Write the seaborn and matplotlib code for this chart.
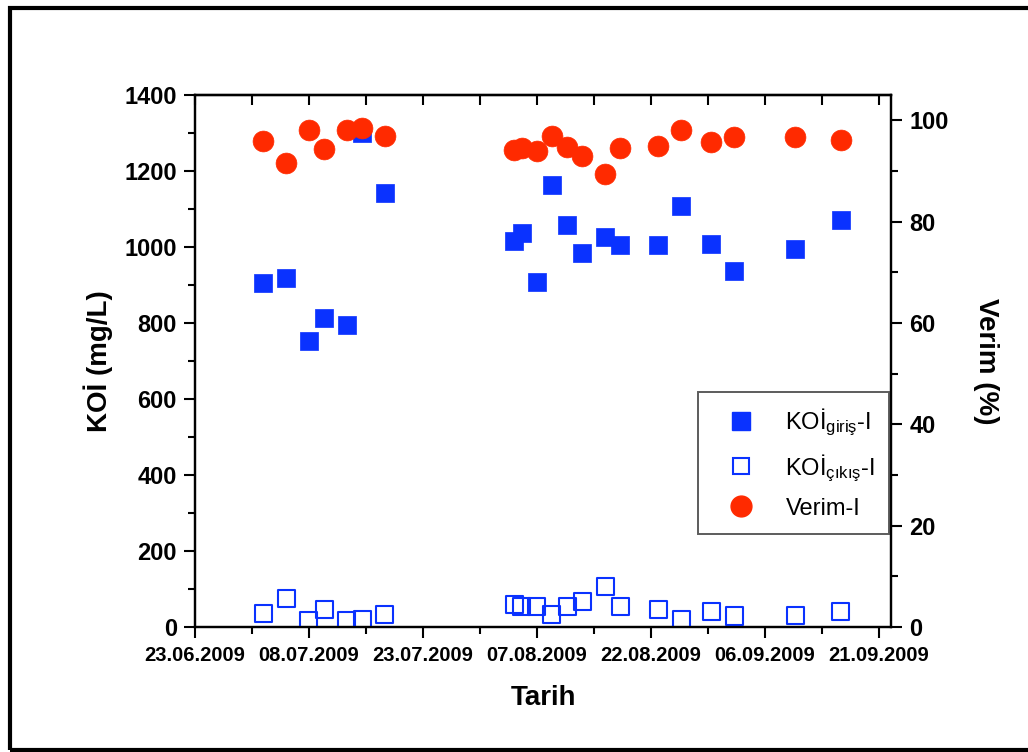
import pandas as pd
import numpy as np
import matplotlib
matplotlib.use("Agg")
import matplotlib.pyplot as plt
import matplotlib.dates as mdates
from matplotlib.lines import Line2D
from matplotlib.patches import Rectangle
import seaborn as sns

sns.set_style("ticks")
plt.rcParams['font.family'] = ['Liberation Sans', 'DejaVu Sans']
plt.rcParams['mathtext.fontset'] = 'custom'
plt.rcParams['mathtext.rm'] = 'Liberation Sans'
plt.rcParams['mathtext.it'] = 'Liberation Sans'
plt.rcParams['mathtext.bf'] = 'Liberation Sans:bold'
for k in ['text.color', 'axes.labelcolor', 'xtick.color', 'ytick.color', 'axes.edgecolor']:
    plt.rcParams[k] = 'black'

# sampling dates
dates = ['2009-07-02', '2009-07-05', '2009-07-08', '2009-07-10', '2009-07-13',
         '2009-07-15', '2009-07-18',
         '2009-08-04', '2009-08-05', '2009-08-07', '2009-08-09', '2009-08-11',
         '2009-08-13', '2009-08-16', '2009-08-18', '2009-08-23', '2009-08-26',
         '2009-08-30', '2009-09-02', '2009-09-10', '2009-09-16']

# KOI inlet (mg/L)
koi_giris = [906, 918, 752, 813, 795, 1301, 1142,
             1017, 1038, 907, 1163, 1058, 983, 1025, 1006, 1006, 1108,
             1009, 937, 994, 1072]

# KOI outlet (mg/L)
koi_cikis = [36, 76, 18, 45, 18, 20, 32,
             58, 55, 54, 32, 54, 67, 107, 54, 47, 21,
             40, 29, 31, 40]

# efficiency (%)
verim = [95.9, 91.6, 98.0, 94.4, 98.0, 98.5, 97.0,
         94.1, 94.5, 93.9, 97.0, 94.7, 92.9, 89.4, 94.5, 95.0, 98.0,
         95.8, 96.7, 96.7, 96.1]

tick_dates = ['23.06.2009', '08.07.2009', '23.07.2009', '07.08.2009',
              '22.08.2009', '06.09.2009', '21.09.2009']

df = pd.DataFrame({'Tarih': pd.to_datetime(dates), 'giris': koi_giris,
                   'cikis': koi_cikis, 'verim': verim})

blue = '#0A32FF'
red = '#FF2A00'

fig = plt.figure(figsize=(10.28, 7.52), dpi=100)
ax = fig.add_axes([0.1897, 0.1662, 0.8672 - 0.1897, 0.8737 - 0.1662])
ax2 = ax.twinx()

sns.scatterplot(data=df, x='Tarih', y='giris', marker='s', s=185, color=blue,
                edgecolor=blue, linewidth=0.5, ax=ax, zorder=3, legend=False)
sns.scatterplot(data=df, x='Tarih', y='cikis', marker='s', s=150, facecolor='none',
                edgecolor=blue, linewidth=1.5, ax=ax, zorder=3, legend=False)
sns.scatterplot(data=df, x='Tarih', y='verim', marker='o', s=225, color=red,
                edgecolor=red, linewidth=0.5, ax=ax2, zorder=3, legend=False)

# axes ranges
tick_pos = pd.to_datetime(tick_dates, format='%d.%m.%Y')
x0 = mdates.date2num(tick_pos[0])
ax.set_xlim(x0, x0 + 91.7)
ax.set_ylim(0, 1400)
ax2.set_ylim(0, 105)

ax.set_xticks(mdates.date2num(tick_pos))
ax.set_xticklabels(tick_dates)
ax.set_xticks(mdates.date2num(tick_pos[:-1]) + 7.5, minor=True)
ax.set_yticks(np.arange(0, 1401, 200))
ax.set_yticks(np.arange(100, 1400, 200), minor=True)
ax2.set_yticks(np.arange(0, 101, 20))
ax2.set_yticks(np.arange(10, 101, 20), minor=True)

for a in (ax, ax2):
    for sp in a.spines.values():
        sp.set_linewidth(1.6)
        sp.set_color('black')

ax.tick_params(axis='x', which='major', direction='out', length=8, width=1.5,
               labelsize=14.5, pad=6)
ax.tick_params(axis='x', which='minor', direction='out', length=5, width=1.5)
ax.tick_params(axis='y', which='major', direction='out', length=8, width=1.5,
               labelsize=17, pad=5)
ax.tick_params(axis='y', which='minor', direction='out', length=5, width=1.5)
ax2.tick_params(axis='y', which='major', direction='out', length=8, width=1.5,
                labelsize=17, pad=5)
ax2.tick_params(axis='y', which='minor', direction='out', length=5, width=1.5)

# top ticks point inward
sec = ax.secondary_xaxis('top')
sec.set_xticks(mdates.date2num(tick_pos))
sec.set_xticks(mdates.date2num(tick_pos[:-1]) + 7.5, minor=True)
sec.tick_params(which='both', direction='in', length=7, width=1.5, labeltop=False)
sec.spines['top'].set_linewidth(1.6)

for lab in ax.get_xticklabels() + ax.get_yticklabels() + ax2.get_yticklabels():
    lab.set_fontweight('bold')

ax.set_xlabel('Tarih', fontsize=20, fontweight='bold', labelpad=14)
ax.set_ylabel('KOİ (mg/L)', fontsize=20, fontweight='bold', labelpad=8)
ax2.set_ylabel('Verim (%)', fontsize=20, fontweight='bold', rotation=270,
               labelpad=36)

handles = [
    Line2D([], [], ls='none', marker='s', ms=13, color=blue, mec=blue),
    Line2D([], [], ls='none', marker='s', ms=12, mfc='none', mec=blue, mew=1.5),
    Line2D([], [], ls='none', marker='o', ms=15, color=red, mec=red),
]
labels = [r'KOİ$_{\mathrm{giriş}}$-I', r'KOİ$_{\mathrm{çıkış}}$-I', 'Verim-I']
leg = ax2.legend(handles, labels, loc='lower right', bbox_to_anchor=(0.997, 0.175),
                 borderaxespad=0, fontsize=17, frameon=True, fancybox=False,
                 handletextpad=0.7, labelspacing=0.6, borderpad=0.6,
                 handlelength=2.4)
leg.get_frame().set_edgecolor('#333333')
leg.get_frame().set_linewidth(1.4)

# outer frame
fig.patches.append(Rectangle((10 / 1028, 2 / 752), 1.2, 748 / 752 - 2 / 752 - 4 / 752,
                             transform=fig.transFigure, fill=False,
                             edgecolor='black', linewidth=3, zorder=10))

fig.savefig('out.png', dpi=100)
